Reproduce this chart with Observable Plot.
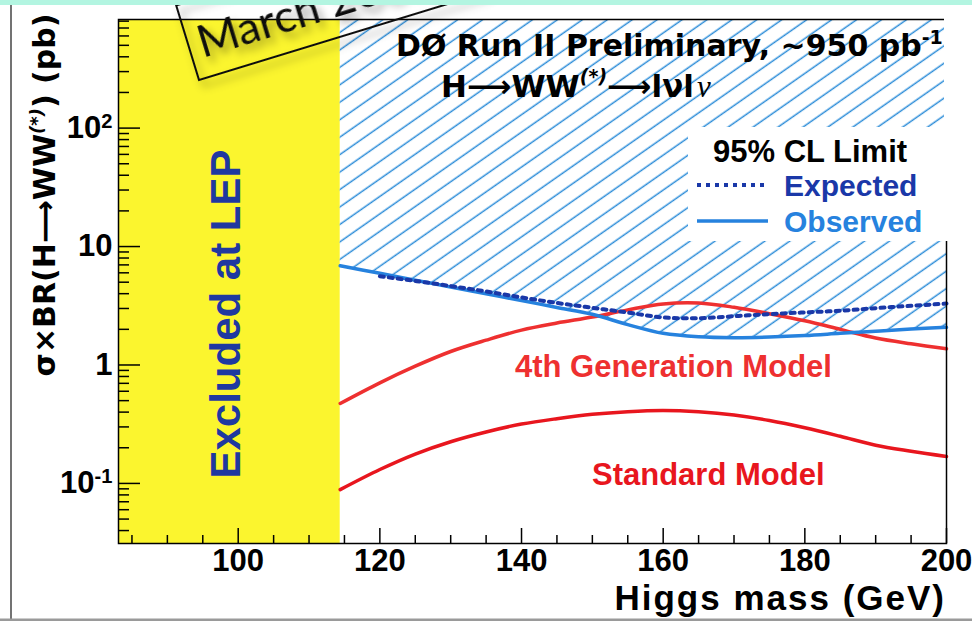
<!DOCTYPE html>
<html><head><meta charset="utf-8">
<script src="https://cdn.jsdelivr.net/npm/d3@7"></script>
<script src="https://cdn.jsdelivr.net/npm/@observablehq/plot@0.6"></script>
<style>
html,body{margin:0;padding:0;background:#fff;overflow:hidden;}
#wrap{position:relative;width:972px;height:621px;overflow:hidden;}
g[aria-label="x-axis tick label"], g[aria-label="y-axis tick label"]{font-family:"Liberation Sans",Arial,sans-serif;font-weight:bold;font-size:31px;fill:#000;}
</style></head><body><div id="wrap"></div>
<script>
// ---- data ----
const mass          = [114.4, 120, 125, 130, 135, 140, 145, 150, 155, 160, 165, 170, 175, 180, 185, 190, 195, 200];
const observed      = [6.88, 5.94, 5.20, 4.56, 3.99, 3.50, 3.06, 2.68, 2.19, 1.85, 1.73, 1.70, 1.72, 1.77, 1.85, 1.93, 2.01, 2.08];
const fourthGen     = [0.473, 0.707, 0.977, 1.30, 1.62, 1.97, 2.26, 2.54, 2.92, 3.28, 3.34, 3.07, 2.71, 2.36, 2.00, 1.69, 1.51, 1.37];
const standardModel = [0.0886, 0.131, 0.177, 0.225, 0.272, 0.317, 0.352, 0.383, 0.403, 0.412, 0.402, 0.378, 0.340, 0.295, 0.250, 0.210, 0.187, 0.169];
const expectedMass  = [120, 125, 130, 135, 140, 145, 150, 155, 160, 165, 170, 175, 180, 185, 190, 195, 200];
const expected      = [5.62, 5.12, 4.64, 4.18, 3.72, 3.34, 3.04, 2.77, 2.52, 2.48, 2.58, 2.69, 2.78, 2.87, 3.02, 3.16, 3.30];
const lepLimit = 114.4;
const xTicks = [100, 120, 140, 160, 180, 200];
const xTickLabels = ["100", "120", "140", "160", "180", "200"];
const yTicks = [0.1, 1, 10, 100];
const yTickLabels = ["10^-1", "1", "10", "10^2"];

// ---- layout ----
const W = 972, H = 621, ML = 118, MR = 26, MT = 19, MB = 78;
const innerW = W - ML - MR, innerH = H - MT - MB;
const X_DOMAIN = [83.1, 200], Y_DOMAIN = [0.0311, 826];
const curve = "catmull-rom";

const rows = mass.map((m, i) => ({mass: m, observed: observed[i], fourth: fourthGen[i], sm: standardModel[i]}));
const expRows = expectedMass.map((m, i) => ({mass: m, expected: expected[i]}));

const yMinor = [];
for (const d of [0.01, 0.1, 1, 10, 100]) for (let k = 2; k <= 9; k++) { const v = k * d; if (v >= Y_DOMAIN[0] && v <= Y_DOMAIN[1]) yMinor.push(v); }
const xMinor = [];
for (let v = 85; v < 200; v += 5) if (v % 20 !== 0) xMinor.push(v);

const chart = Plot.plot({
  width: W, height: H, marginLeft: ML, marginRight: MR, marginTop: MT, marginBottom: MB,
  style: {background: "transparent", fontFamily: "'Liberation Sans', Arial, sans-serif", color: "#000", overflow: "visible"},
  x: {type: "linear", domain: X_DOMAIN, axis: null},
  y: {type: "log", domain: Y_DOMAIN, axis: null},
  marks: [
    Plot.rect([lepLimit], {x1: () => X_DOMAIN[0], x2: d => d, fill: "#fbf52e"}),
    Plot.areaY(rows, {x: "mass", y1: "observed", y2: () => Y_DOMAIN[1], fill: "url(#hatch)", curve}),
    Plot.line(rows, {x: "mass", y: "fourth", stroke: "#ee3030", strokeWidth: 3.5, curve}),
    Plot.line(rows, {x: "mass", y: "sm", stroke: "#e8161e", strokeWidth: 3.5, curve}),
    Plot.line(rows, {x: "mass", y: "observed", stroke: "#2682de", strokeWidth: 3.5, curve}),
    Plot.line(expRows, {x: "mass", y: "expected", stroke: "#1a38a8", strokeWidth: 4, strokeDasharray: "4 5", curve}),
    Plot.tickY(yMinor, {y: d => d, insetRight: innerW - 11, stroke: "#000", strokeWidth: 1.5}),
    Plot.tickY(yTicks, {y: d => d, insetRight: innerW - 22, stroke: "#000", strokeWidth: 1.5}),
    Plot.tickX(xMinor, {x: d => d, insetTop: innerH - 8, stroke: "#000", strokeWidth: 1.5}),
    Plot.tickX(xTicks, {x: d => d, insetTop: innerH - 15, stroke: "#000", strokeWidth: 1.5}),
    Plot.frame({stroke: "#000", strokeWidth: 1.5}),
    Plot.axisX({ticks: xTicks, tickFormat: (d) => xTickLabels[xTicks.indexOf(d)], tickSize: 0, tickPadding: 5, label: null}),
    Plot.axisY({ticks: yTicks, tickFormat: (d) => yTickLabels[yTicks.indexOf(d)], tickSize: 0, tickPadding: 6, label: null})
  ]
});
document.getElementById("wrap").append(chart);
const svg = d3.select(chart);

// hatch pattern + shadow filter
const defs = svg.insert("defs", ":first-child");
const pat = defs.append("pattern").attr("id", "hatch").attr("patternUnits", "userSpaceOnUse")
  .attr("width", 10).attr("height", 14.3).attr("patternTransform", "rotate(-35)");
pat.append("line").attr("x1", 0).attr("x2", 10).attr("y1", 7).attr("y2", 7)
  .attr("stroke", "#2b8cd8").attr("stroke-width", 1.5);
const flt = defs.append("filter").attr("id", "shadow").attr("x", "-20%").attr("y", "-50%").attr("width", "150%").attr("height", "220%");
flt.append("feDropShadow").attr("dx", 3).attr("dy", 7).attr("stdDeviation", 4).attr("flood-color", "#000").attr("flood-opacity", 0.4);

// superscripts on y tick labels
svg.selectAll('g[aria-label="y-axis tick label"] text').each(function () {
  const t = d3.select(this); const s = t.text();
  if (s.includes("^")) {
    const [b, e] = s.split("^");
    t.text(null);
    t.append("tspan").text(b);
    t.append("tspan").attr("dy", "-0.5em").attr("font-size", "65%").text(e);
  }
});

const ov = svg.append("g").attr("text-anchor", "start");
const bold = "'Liberation Sans', Arial, sans-serif";
const wide = "'DejaVu Sans', Verdana, sans-serif";

// hide right frame above legend
ov.append("rect").attr("x", 944).attr("y", 17).attr("width", 5).attr("height", 215).attr("fill", "#fff");
// legend box
ov.append("rect").attr("x", 688).attr("y", 127).attr("width", 260).attr("height", 114).attr("fill", "#fff");
ov.append("text").attr("x", 713).attr("y", 162).attr("font-family", bold).attr("font-weight", "bold").attr("font-size", 31).attr("fill", "#000").text("95% CL Limit");
ov.append("line").attr("x1", 697).attr("x2", 765).attr("y1", 185).attr("y2", 185).attr("stroke", "#1a38a8").attr("stroke-width", 4).attr("stroke-dasharray", "4 5");
ov.append("text").attr("x", 784).attr("y", 196).attr("font-family", bold).attr("font-weight", "bold").attr("font-size", 30).attr("fill", "#1a38a8").text("Expected");
ov.append("line").attr("x1", 697).attr("x2", 768).attr("y1", 221).attr("y2", 221).attr("stroke", "#2682de").attr("stroke-width", 3.5);
ov.append("text").attr("x", 784).attr("y", 232).attr("font-family", bold).attr("font-weight", "bold").attr("font-size", 30).attr("fill", "#2682de").text("Observed");

// title
const t1 = ov.append("text").attr("x", 396).attr("y", 56).attr("font-family", wide).attr("font-weight", "bold").attr("font-size", 30).attr("fill", "#000");
t1.append("tspan").text("DØ Run II Preliminary, ~950 pb");
t1.append("tspan").attr("dy", -12).attr("font-size", 19).text("-1");
const t2 = ov.append("text").attr("x", 441).attr("y", 97).attr("font-family", wide).attr("font-weight", "bold").attr("font-size", 31).attr("fill", "#000");
t2.append("tspan").text("H⟶WW");
t2.append("tspan").attr("dy", -14).attr("font-size", 19).attr("font-style", "italic").text("(*)");
t2.append("tspan").attr("dy", 14).text("⟶lνl");
t2.append("tspan").attr("font-family", "'Liberation Serif', serif").attr("font-weight", "normal").attr("font-style", "italic").attr("dx", 3).text("ν");

// axis titles
const yl = ov.append("text").attr("transform", "translate(55,195) rotate(-90)").attr("text-anchor", "middle")
  .attr("font-family", wide).attr("font-weight", "bold").attr("font-size", 30).attr("fill", "#000");
yl.append("tspan").text("σ×BR(H⟶WW");
yl.append("tspan").attr("dy", -12).attr("font-size", 18).attr("font-style", "italic").text("(*)");
yl.append("tspan").attr("dy", 12).text(") (pb)");
ov.append("text").attr("x", 946).attr("y", 610).attr("text-anchor", "end").attr("font-family", bold).attr("font-weight", "bold").attr("font-size", 35).attr("letter-spacing", 2).attr("fill", "#000").text("Higgs mass (GeV)");

// in-plot labels
ov.append("text").attr("transform", "translate(240,314) rotate(-90)").attr("text-anchor", "middle")
  .attr("font-family", bold).attr("font-weight", "bold").attr("font-size", 42).attr("fill", "#1f38a0").text("Excluded at LEP");
ov.append("text").attr("x", 515).attr("y", 377).attr("font-family", bold).attr("font-weight", "bold").attr("font-size", 31).attr("fill", "#ee3030").text("4th Generation Model");
ov.append("text").attr("x", 592).attr("y", 485).attr("font-family", bold).attr("font-weight", "bold").attr("font-size", 31).attr("fill", "#e8161e").text("Standard Model");

// date stamp
const st = ov.append("g").attr("transform", "translate(199,80) rotate(-17)").attr("filter", "url(#shadow)");
st.append("rect").attr("x", 0).attr("y", -78).attr("width", 300).attr("height", 78).attr("fill", "none").attr("stroke", "#111").attr("stroke-width", 2);
st.append("text").attr("x", 10).attr("y", -20).attr("font-family", "Lato, 'Open Sans', sans-serif").attr("font-size", 45).attr("fill", "#111").text("March 2007");

// page decorations
ov.append("rect").attr("x", 0).attr("y", 0).attr("width", W).attr("height", 5).attr("fill", "#b3f5e1");
ov.append("line").attr("x1", 11).attr("x2", 11).attr("y1", 5).attr("y2", 619).attr("stroke", "#444").attr("stroke-width", 1.5);
ov.append("rect").attr("x", 0).attr("y", 618.5).attr("width", W).attr("height", 2.5).attr("fill", "#9a9a9a");
</script></body></html>
